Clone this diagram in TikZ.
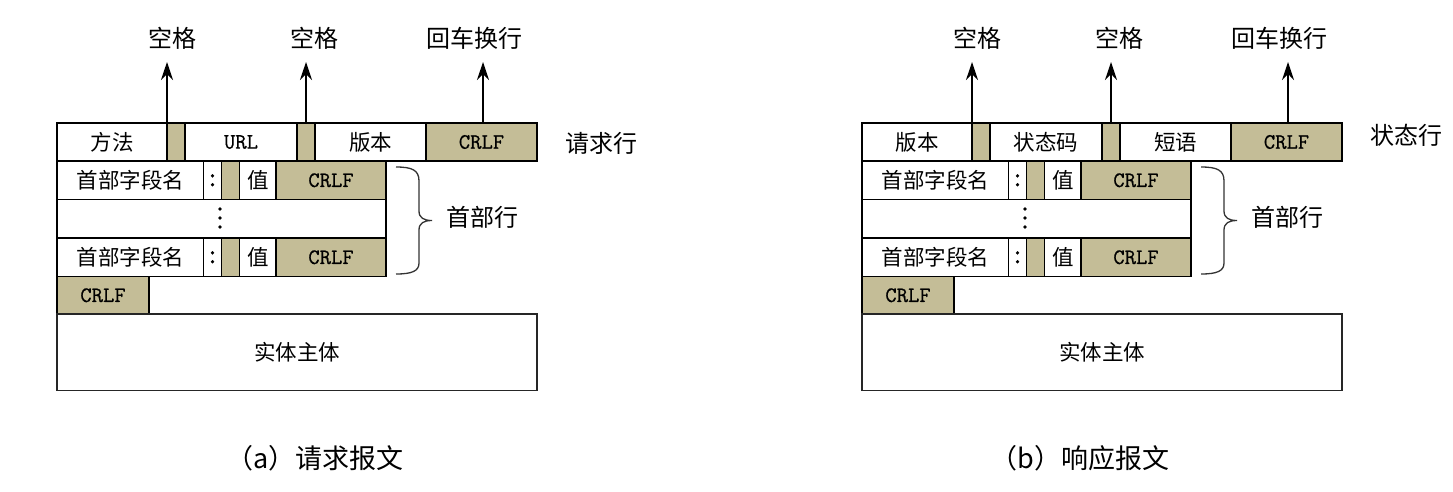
\documentclass[tikz,border=0pt]{standalone}
\usepackage{fontspec}
\setmainfont{Noto Sans CJK SC}
\setmonofont{Latin Modern Mono}[FakeBold=0.7]
\usetikzlibrary{arrows.meta}
\definecolor{tanbox}{RGB}{196,189,151}
\newcommand\mkcell[7]{%
  \pgfmathsetmacro\mcx{(#2+#3)/2}%
  \pgfmathsetmacro\mcy{(#4+#5)/2}%
  \pgfmathsetmacro\mcw{#3-#2}%
  \pgfmathsetmacro\mch{#5-#4}%
  \node[#6, minimum width=\mcw pt, minimum height=\mch pt] (#1) at (\mcx,\mcy) {#7};}
\newcommand\drawpanel[6]{%
  % start line
  \mkcell{#1c1}{57}{167}{123}{161}{cellw}{#2}
  \mkcell{#1g1}{167}{185}{123}{161}{cellg}{}
  \mkcell{#1c2}{185}{297}{123}{161}{cellw}{#3}
  \mkcell{#1g2}{297}{315}{123}{161}{cellg}{}
  \mkcell{#1c3}{315}{426}{123}{161}{cellw}{#4}
  \mkcell{#1c4}{426}{537}{123}{161}{cellg,mono}{CRLF}
  \node[lbl] (#1side) at (601,#6) {#5};
  % labels and arrows
  \node[lbl] (#1l1) at (172,38) {空格};
  \node[lbl] (#1l2) at (314,38) {空格};
  \node[lbl] (#1l3) at (474,38) {回车换行};
  \coordinate (#1s1) at (167,123); \coordinate (#1e1) at (167,62);
  \coordinate (#1s2) at (306,123); \coordinate (#1e2) at (306,62);
  \coordinate (#1s3) at (483,123); \coordinate (#1e3) at (483,62);
  \draw[arr] (#1s1) -- (#1e1);
  \draw[arr] (#1s2) -- (#1e2);
  \draw[arr] (#1s3) -- (#1e3);
  % header line 1
  \mkcell{#1hna}{57}{203.5}{161}{199.5}{cellw}{首部字段名}
  \mkcell{#1hca}{203.5}{221.5}{161}{199.5}{cellw,colon}{:}
  \mkcell{#1hga}{221.5}{239.5}{161}{199.5}{cellg}{}
  \mkcell{#1hva}{239.5}{276}{161}{199.5}{cellw}{值}
  \mkcell{#1hra}{276}{386}{161}{199.5}{cellg,mono}{CRLF}
  % dots line
  \mkcell{#1dots}{57}{386}{199.5}{238}{cellw}{}
  \fill (220,209) circle (1.9pt) (220,218) circle (1.9pt) (220,227) circle (1.9pt);
  % header line 2
  \mkcell{#1hnb}{57}{203.5}{238}{276.5}{cellw}{首部字段名}
  \mkcell{#1hcb}{203.5}{221.5}{238}{276.5}{cellw,colon}{:}
  \mkcell{#1hgb}{221.5}{239.5}{238}{276.5}{cellg}{}
  \mkcell{#1hvb}{239.5}{276}{238}{276.5}{cellw}{值}
  \mkcell{#1hrb}{276}{386}{238}{276.5}{cellg,mono}{CRLF}
  % empty line
  \mkcell{#1crlf}{57}{149}{276.5}{314}{cellg,mono}{CRLF}
  % body
  \mkcell{#1body}{57}{537}{314}{390.5}{cellw,line width=1.5pt,draw=black!85}{实体主体}
  % brace
  \draw[line width=1.3pt, black!80] (396,167) .. controls (412,167) and (419,170) .. (419,181)
     -- (419,211) .. controls (419,218) and (424,220.5) .. (432,220.5)
     .. controls (424,220.5) and (419,223) .. (419,230)
     -- (419,263) .. controls (419,271) and (412,274) .. (396,274);
  \node[lbl] (#1hdr) at (482,217) {首部行};
}
\begin{document}
\begin{tikzpicture}[x=1pt,y=-1pt,
  every node/.style={inner sep=0pt,outer sep=0pt},
  cellw/.style={draw=black, line width=1.2pt, fill=white, font=\fontsize{21.5}{25}\selectfont},
  cellg/.style={cellw, fill=tanbox},
  mono/.style={font=\ttfamily\fontsize{22}{26}\selectfont},
  colon/.style={font=\ttfamily\fontsize{28}{30}\selectfont},
  lbl/.style={font=\fontsize{24}{28}\selectfont},
  captxt/.style={font=\fontsize{27}{32}\selectfont},
  arr/.style={-{Stealth[length=18pt,width=12pt,inset=6pt]}, line width=1.3pt}]
\useasboundingbox[fill=white] (0,0) rectangle (1453,491);
\begin{scope}
  \drawpanel{a}{方法}{{\ttfamily\fontsize{22}{26}\selectfont URL}}{版本}{请求行}{143}
\end{scope}
\begin{scope}[xshift=805pt]
  \drawpanel{b}{版本}{状态码}{短语}{状态行}{135}
\end{scope}
\node[captxt] (capa) at (315,458) {（a）请求报文};
\node[captxt] (capb) at (1080,458) {（b）响应报文};
\end{tikzpicture}
\end{document}
